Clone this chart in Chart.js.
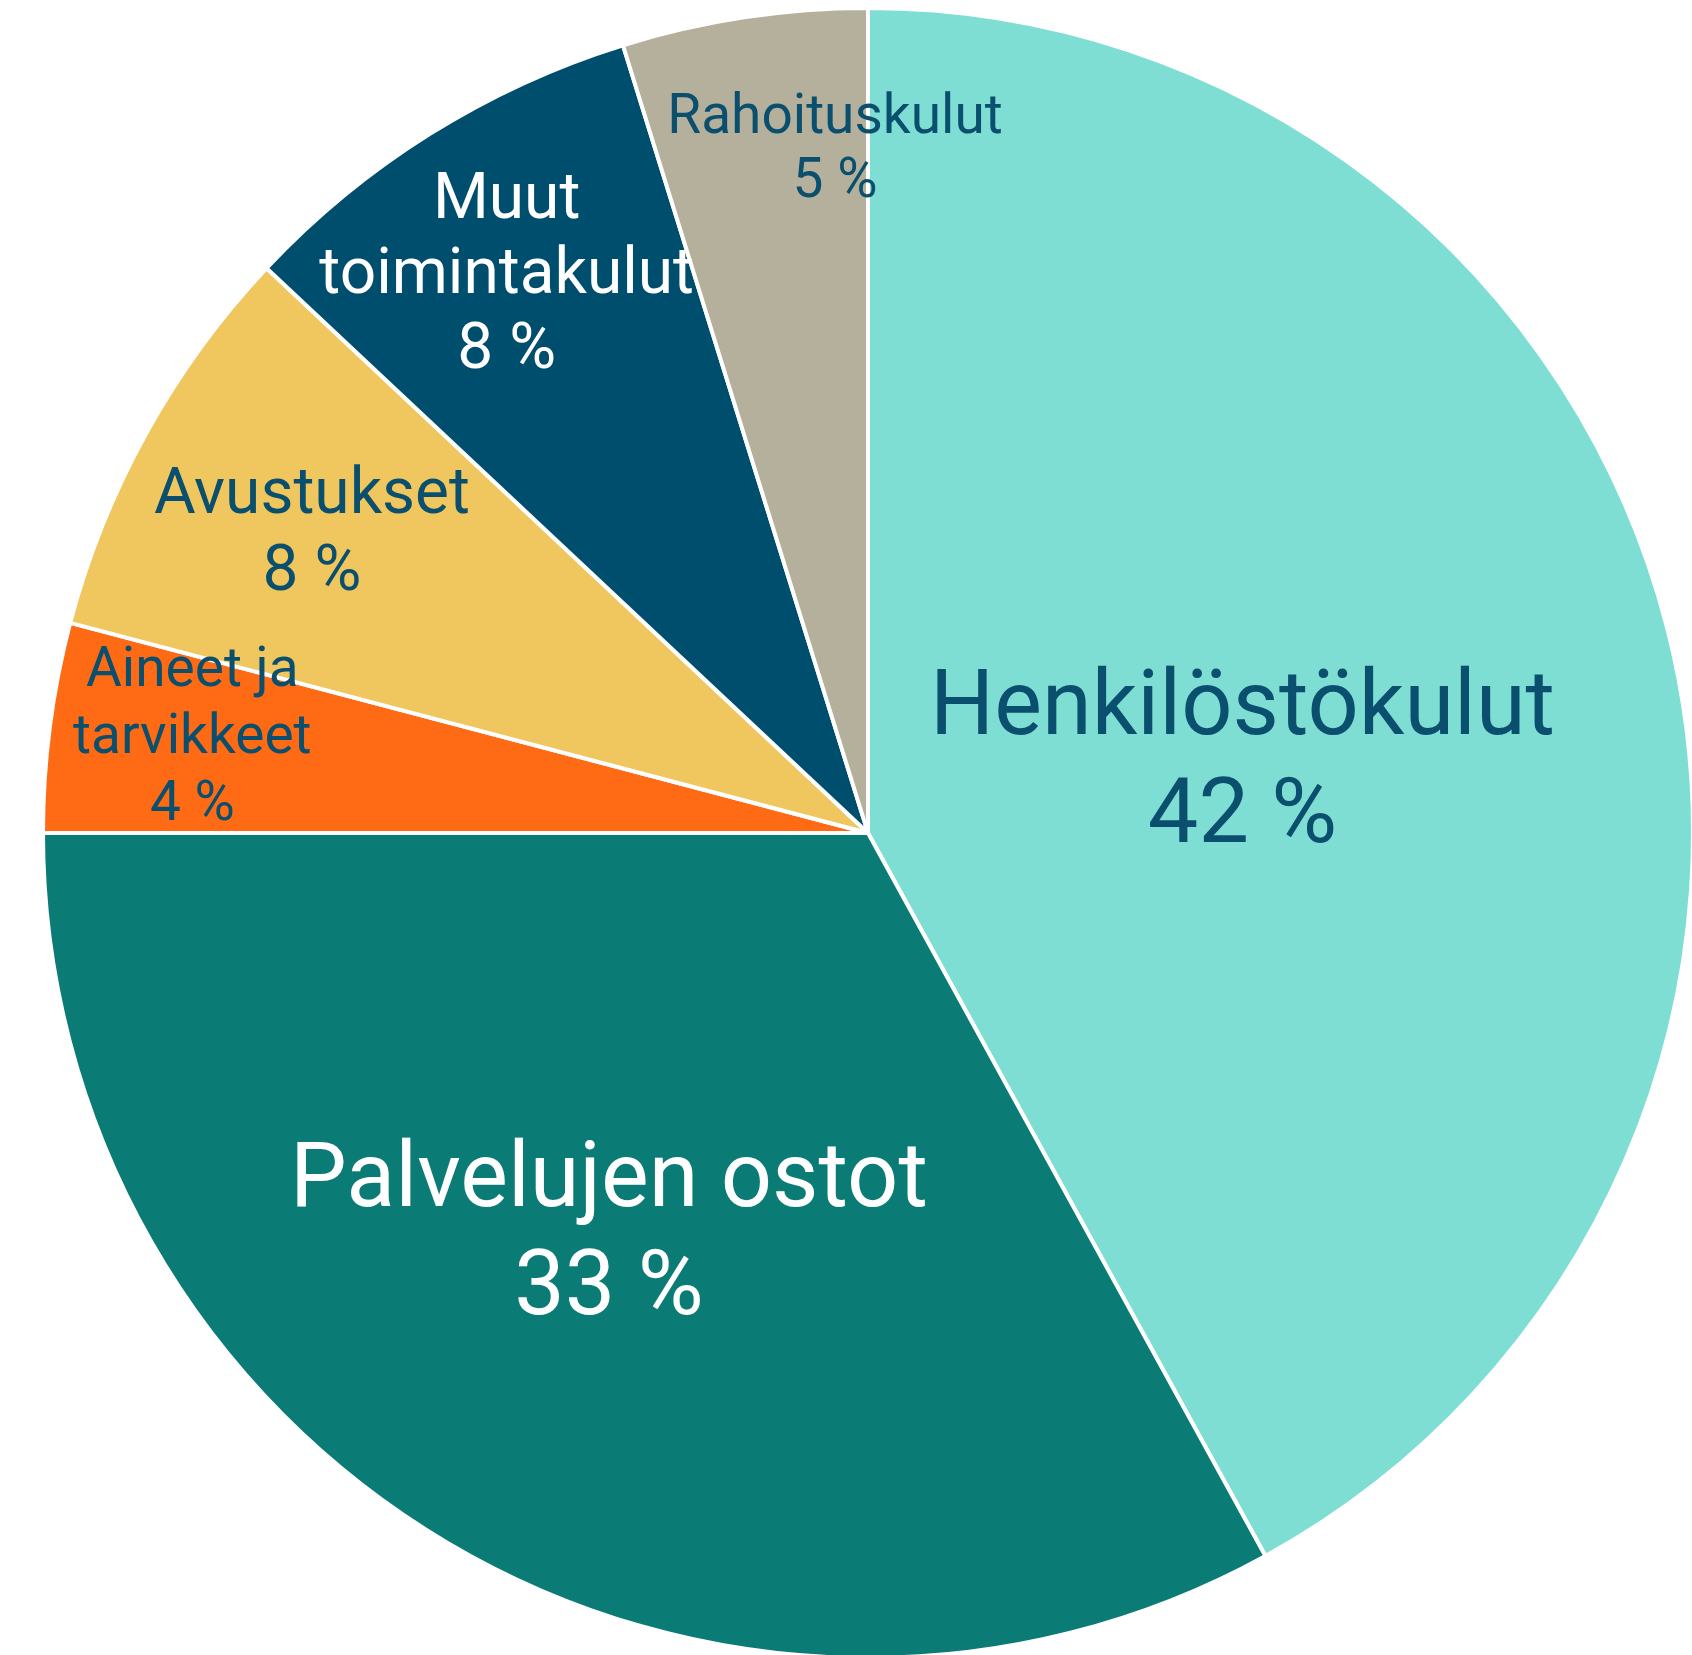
<!DOCTYPE html>
<html>
<head>
<meta charset="utf-8">
<script src="https://cdn.jsdelivr.net/npm/chart.js@4"></script>
<style>
  html, body { margin: 0; padding: 0; background: #ffffff; overflow: hidden; }
  #wrap { position: absolute; left: 0; top: 0; width: 1700px; height: 1665px; }
</style>
</head>
<body>
<div id="wrap"><canvas id="kulut"></canvas></div>
<script>
// menolajit ja osuudet (%)
const categories = [
    ['Henkilöstökulut'],
    ['Palvelujen ostot'],
    ['Aineet ja', 'tarvikkeet'],
    ['Avustukset'],
    ['Muut', 'toimintakulut'],
    ['Rahoituskulut'],
];
const shares = [42.0, 33.0, 4.1, 7.9, 8.2, 4.8];

const sliceColors = ['#7fded4', '#0a7b75', '#ff6b14', '#f0c75e', '#004e6e', '#b5b09c'];
const textColors = ['#0b4f6e', '#ffffff', '#0b4f6e', '#0b4f6e', '#ffffff', '#0b4f6e'];

// label placement relative to pie centre, in units of radius
const labelLayout = [
    { fx: 0.454, fy: -0.120, size: 90, lh: 108 },
    { fx: -0.314, fy: 0.452, size: 90, lh: 108 },
    { fx: -0.819, fy: -0.178, size: 55, lh: 67 },
    { fx: -0.674, fy: -0.388, size: 64, lh: 77 },
    { fx: -0.438, fy: -0.745, size: 64, lh: 75 },
    { fx: -0.040, fy: -0.848, size: 55, lh: 64 },
];

const sliceLabels = {
    id: 'sliceLabels',
    afterDatasetsDraw(chart) {
        const ctx = chart.ctx;
        const meta = chart.getDatasetMeta(0);
        ctx.save();
        ctx.textAlign = 'center';
        ctx.textBaseline = 'alphabetic';
        meta.data.forEach((arc, i) => {
            const r = arc.outerRadius;
            const lay = labelLayout[i];
            const x = arc.x + lay.fx * r;
            let y = arc.y + lay.fy * r;
            const lines = categories[i].concat([Math.round(shares[i]) + '\u00a0%']);
            ctx.font = lay.size + 'px Roboto';
            ctx.fillStyle = textColors[i];
            lines.forEach(line => {
                ctx.fillText(line, x, y);
                y += lay.lh;
            });
        });
        ctx.restore();
    }
};

const kulutChart = new Chart(document.getElementById('kulut'), {
    type: 'pie',
    data: {
        labels: categories.map(c => c.join(' ')),
        datasets: [{
            data: shares,
            backgroundColor: sliceColors,
            borderColor: '#ffffff',
            borderWidth: 4,
            hoverOffset: 0,
        }]
    },
    options: {
        responsive: true,
        maintainAspectRatio: false,
        animation: false,
        events: [],
        layout: {
            padding: { left: 41, top: 6, right: 5, bottom: 5 }
        },
        plugins: {
            legend: { display: false },
            tooltip: { enabled: false },
        },
    },
    plugins: [sliceLabels]
});
</script>
</body>
</html>
